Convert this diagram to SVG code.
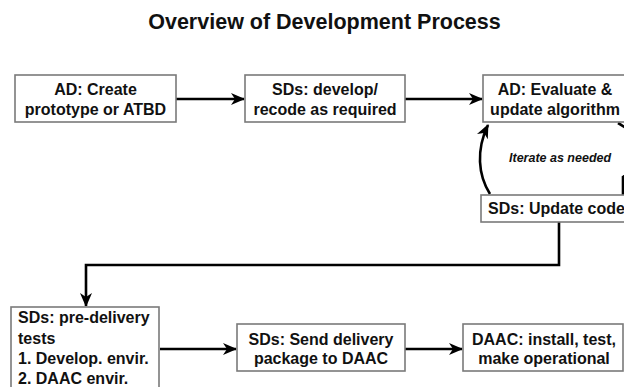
<svg xmlns="http://www.w3.org/2000/svg" width="624" height="387" viewBox="0 0 624 387">
<defs>
<marker id="ah" markerWidth="14" markerHeight="12" refX="13" refY="6" orient="auto" markerUnits="userSpaceOnUse">
<path d="M0,0 L14,6 L0,12 L4,6 z" fill="#000"/>
</marker>
<style>
.box{fill:#fff;stroke:#7a7a7a;stroke-width:1.6}
.t{font-family:"Liberation Sans",Arial,sans-serif;font-weight:bold;font-size:16px;fill:#111}
.c{text-anchor:middle}
.ln{fill:none;stroke:#000;stroke-width:2.6}
</style>
</defs>
<rect width="624" height="387" fill="#fff"/>
<text x="324.5" y="29" class="t c" style="font-size:21.5px">Overview of Development Process</text>

<g id="connectors">
<line x1="176" y1="99" x2="244" y2="99" class="ln" marker-end="url(#ah)"/>
<line x1="405" y1="99" x2="482" y2="99" class="ln" marker-end="url(#ah)"/>
<path d="M490,194 C478,175 476,150 488,125" class="ln" marker-end="url(#ah)"/>
<path d="M618,123 Q665,150 623,177 L623,195" class="ln"/>
<path d="M559,222 L559,265 L86,265 L86,306" class="ln" marker-end="url(#ah)"/>
<line x1="160" y1="349" x2="236" y2="349" class="ln" marker-end="url(#ah)"/>
<line x1="405" y1="349" x2="462" y2="349" class="ln" marker-end="url(#ah)"/>
</g>

<g id="n1">
<rect x="15" y="75" width="161" height="47" class="box"/>
<text x="95.5" y="95" class="t c">AD: Create</text>
<text x="95.5" y="115" class="t c">prototype or ATBD</text>
</g>
<g id="n2">
<rect x="245" y="75" width="160" height="47" class="box"/>
<text x="325" y="95" class="t c">SDs: develop/</text>
<text x="325" y="115" class="t c">recode as required</text>
</g>
<g id="n3">
<rect x="483" y="75" width="145" height="47" class="box"/>
<text x="555" y="95" class="t c">AD: Evaluate &amp;</text>
<text x="555" y="115" class="t c">update algorithm</text>
</g>
<g id="iter">
<text x="509" y="162" class="t" style="font-size:12.5px;font-style:italic">Iterate as needed</text>
</g>
<g id="n4">
<rect x="481" y="195" width="150" height="27" class="box"/>
<text x="488" y="214" class="t">SDs: Update code</text>
</g>
<g id="n5">
<rect x="11" y="307" width="148" height="90" class="box"/>
<text x="18" y="323" class="t">SDs: pre-delivery</text>
<text x="18" y="344" class="t">tests</text>
<text x="18" y="364" class="t">1. Develop. envir.</text>
<text x="18" y="384" class="t">2. DAAC envir.</text>
</g>
<g id="n6">
<rect x="237" y="324" width="168" height="47" class="box"/>
<text x="321" y="345" class="t c">SDs: Send delivery</text>
<text x="321" y="364" class="t c">package to DAAC</text>
</g>
<g id="n7">
<rect x="463" y="324" width="160" height="47" class="box"/>
<text x="544" y="345" class="t c">DAAC: install, test,</text>
<text x="544" y="364" class="t c">make operational</text>
</g>
</svg>
